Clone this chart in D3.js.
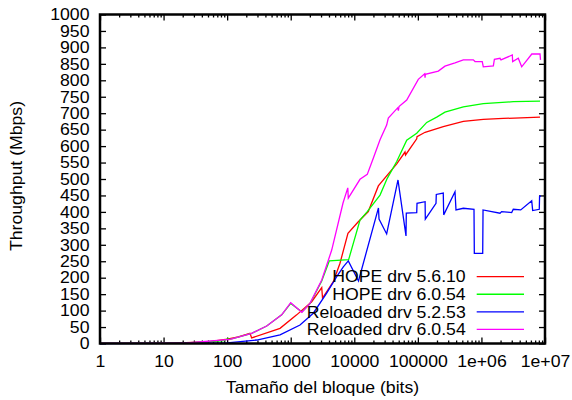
<!DOCTYPE html>
<html><head><meta charset="utf-8">
<script src="https://cdn.jsdelivr.net/npm/d3@7"></script>
<style>
body{margin:0;background:#fff;}
text{font-family:"Liberation Sans",Arial,sans-serif;}
</style></head>
<body><svg id="c" width="572" height="400"></svg>
<script>
const xTicks = [1, 10, 100, 1000, 10000, 100000, 1e6, 1e7];
const xTickLabels = ["1", "10", "100", "1000", "10000", "100000", "1e+06", "1e+07"];
const yTicks = d3.range(0, 1001, 50);
const seriesNames = ["HOPE drv 5.6.10", "HOPE drv 6.0.54", "Reloaded drv 5.2.53", "Reloaded drv 6.0.54"];
const seriesColors = ["#ff0000", "#00ff00", "#0000ff", "#ff00ff"];

const redX = [1, 10, 50, 100, 150, 229, 243, 679, 1242, 2140, 3075, 3165, 4680, 5960, 7950, 11560, 16600, 23900, 46500, 62800, 64000, 96000, 97000, 130000, 251000, 519000, 1070000, 2210000, 8350000];
const redY = [0.1, 0.5, 5, 13, 20, 31, 17, 46, 87, 127, 170, 138, 188, 244, 335, 370, 401, 479, 546, 582, 573, 622, 629, 642, 659, 675, 681, 684, 688];

const greenX = [1, 10, 23, 90, 100, 111, 243, 419, 721, 1000, 1500, 2010, 3075, 4040, 8150, 12300, 16000, 25400, 33000, 46500, 66800, 96000, 138000, 198000, 267000, 519000, 1070000, 3170000, 8350000];
const greenY = [0.2, 1, 1.5, 9, 14, 12.8, 31, 53, 87, 122, 96, 121, 190, 251, 255, 375, 401, 451, 502, 553, 618, 639, 672, 688, 703, 719, 729, 735, 737];

const blueX = [1, 10, 100, 292, 679, 1400, 2265, 3680, 5290, 6720, 8050, 11640, 24000, 24500, 32300, 48700, 65100, 65800, 96000, 97000, 130000, 131000, 193000, 195000, 251000, 255000, 384000, 398000, 519000, 764000, 773000, 1047000, 1060000, 1960000, 2080000, 2990000, 3170000, 4150000, 6180000, 6400000, 8130000, 8220000, 8650000];
const blueY = [0, 0.3, 2, 10.6, 26, 56, 92, 153, 203, 233, 251, 190, 412, 378, 333, 497, 327, 396, 398, 426, 431, 378, 426, 453, 457, 391, 461, 406, 411, 408, 274, 274, 406, 396, 401, 398, 408, 406, 434, 404, 408, 448, 448];

const magX = [1, 10, 23, 111, 243, 419, 721, 1000, 1500, 2010, 3075, 4415, 6650, 7900, 8050, 12300, 16000, 19900, 25400, 32300, 34300, 48000, 49400, 50500, 66800, 101600, 128000, 129800, 131000, 210000, 267000, 384000, 519000, 745000, 793000, 1030000, 1070000, 1540000, 1600000, 1960000, 2030000, 3060000, 3100000, 3800000, 4300000, 6200000, 8350000, 8500000];
const magY = [0.2, 1, 1.5, 12.8, 31, 53, 87, 124, 95, 122, 193, 284, 427, 473, 442, 499, 514, 563, 619, 664, 685, 716, 708, 720, 740, 803, 820, 808, 818, 828, 843, 853, 862, 862, 857, 857, 841, 844, 864, 867, 862, 877, 857, 867, 841, 880, 880, 862];

const seriesX = [redX, greenX, blueX, magX];
const seriesY = [redY, greenY, blueY, magY];

const L = 100, R = 545, T = 14.5, B = 343.5;
const FS = 16.5;
const svg = d3.select("#c");
const x = d3.scaleLog().domain([1, 1e7]).range([L, R]);
const y = d3.scaleLinear().domain([0, 1000]).range([B, T]);

const minor = [];
for (let d = 1; d < 1e7; d *= 10) for (let k = 2; k <= 9; k++) minor.push(d * k);

function styleAxis(g){
  g.select(".domain").remove();
  g.selectAll(".tick line").attr("stroke", "#000").attr("stroke-width", 1.3);
  g.selectAll("text").attr("font-size", FS).attr("fill", "#000").style("font-family", '"Liberation Sans",Arial,sans-serif');
}
// bottom
svg.append("g").attr("transform", `translate(0,${B})`)
  .call(d3.axisBottom(x).tickValues(xTicks).tickFormat((d,i)=>xTickLabels[i]).tickSizeInner(-6).tickSizeOuter(0).tickPadding(12))
  .call(styleAxis);
svg.append("g").attr("transform", `translate(0,${B})`)
  .call(d3.axisBottom(x).tickValues(minor).tickFormat("").tickSizeInner(-3).tickSizeOuter(0)).call(styleAxis);
// top
svg.append("g").attr("transform", `translate(0,${T})`)
  .call(d3.axisTop(x).tickValues(xTicks).tickFormat("").tickSizeInner(-6).tickSizeOuter(0)).call(styleAxis);
svg.append("g").attr("transform", `translate(0,${T})`)
  .call(d3.axisTop(x).tickValues(minor).tickFormat("").tickSizeInner(-3).tickSizeOuter(0)).call(styleAxis);
// left
svg.append("g").attr("transform", `translate(${L},0)`)
  .call(d3.axisLeft(y).tickValues(yTicks).tickFormat(d3.format("d")).tickSizeInner(-6).tickSizeOuter(0).tickPadding(10.5))
  .call(styleAxis);
// right
svg.append("g").attr("transform", `translate(${R},0)`)
  .call(d3.axisRight(y).tickValues(yTicks).tickFormat("").tickSizeInner(-6).tickSizeOuter(0)).call(styleAxis);

// series
const line = d3.line().x(d => x(d[0])).y(d => y(d[1]));
seriesX.forEach((xs, i) => {
  const pts = xs.map((v, j) => [v, seriesY[i][j]]);
  svg.append("path").datum(pts).attr("d", line)
    .attr("fill", "none").attr("stroke", seriesColors[i]).attr("stroke-width", 1.3)
    .attr("stroke-linejoin", "miter");
});

// frame
svg.append("rect").attr("x", L).attr("y", T).attr("width", R - L).attr("height", B - T)
  .attr("fill", "none").attr("stroke", "#000").attr("stroke-width", 2.5);

// legend
const legY0 = 276.7, legDy = 17.55;
seriesNames.forEach((n, i) => {
  const yy = legY0 + i * legDy;
  svg.append("text").attr("x", 465.7).attr("y", yy).attr("dy", "0.35em")
    .attr("text-anchor", "end").attr("font-size", FS).attr("fill", "#000").text(n);
  svg.append("line").attr("x1", 476.7).attr("x2", 524).attr("y1", yy).attr("y2", yy)
    .attr("stroke", seriesColors[i]).attr("stroke-width", 1.3);
});

// titles
svg.append("text").attr("x", 322.5).attr("y", 393.4).attr("text-anchor", "middle")
  .attr("font-size", FS).attr("fill", "#000").text("Tamaño del bloque (bits)");
svg.append("text").attr("transform", "translate(22,176) rotate(-90)").attr("text-anchor", "middle")
  .attr("font-size", FS).attr("fill", "#000").text("Throughput (Mbps)");

// slight horizontal stretch of the glyphs, as in the reference
svg.selectAll("text").each(function(){
  const w = this.getComputedTextLength();
  if (w > 0) d3.select(this).attr("textLength", w * 1.07).attr("lengthAdjust", "spacingAndGlyphs");
});
</script>
</body></html>
